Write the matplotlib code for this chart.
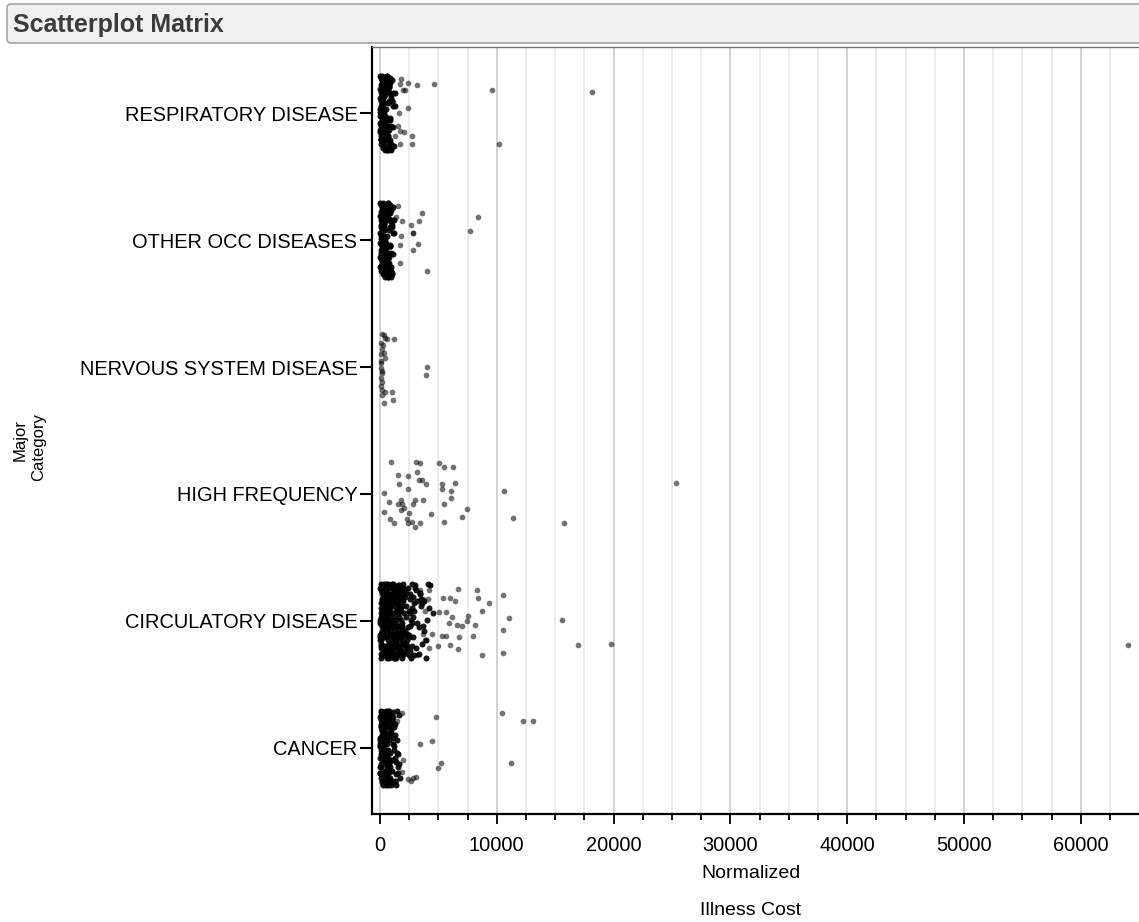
import numpy as np
import matplotlib.pyplot as plt
from matplotlib.patches import FancyBboxPatch

plt.rcParams['font.family'] = ['Liberation Sans', 'DejaVu Sans']

# categories bottom -> top
categories = ['CANCER', 'CIRCULATORY DISEASE', 'HIGH FREQUENCY',
              'NERVOUS SYSTEM DISEASE', 'OTHER OCC DISEASES', 'RESPIRATORY DISEASE']
x_ticks = [0, 10000, 20000, 30000, 40000, 50000, 60000]

# shared jitter offsets for the dense clusters (category units)
JIT = [0.03, -0.21, 0.17, -0.08, 0.26, -0.27, 0.10, -0.15, 0.22, -0.02, -0.24,
       0.14, -0.11, 0.28, 0.06, -0.18, 0.19, -0.05, 0.24, -0.29, 0.01, -0.13,
       0.12, -0.26, 0.08, 0.29, -0.10, 0.16, -0.20, 0.21, -0.04]

# ---- RESPIRATORY DISEASE
resp_blob = [40, 380, 720, 150, 560, 950, 260, 640, 90, 470, 820, 210, 1100, 330, 60, 690,
             510, 180, 880, 420, 20, 760, 290, 1200, 130, 600, 980, 350, 70, 540, 840,
             310, 660, 110, 450, 1020, 240, 780, 30, 580, 170, 910, 400, 720, 80, 1300,
             500, 230, 860, 140, 620, 360, 10, 960, 280, 700, 190, 430, 1150, 50, 800,
             600, 120, 870, 300, 20, 740, 440, 1000, 200, 650, 350, 60, 930, 490, 250,
             1080, 100, 560, 790, 330, 680, 160, 450, 30, 900, 270, 620, 80, 1250, 400, 730,
             250, 520, 60, 810, 390, 180, 640, 90, 330, 770, 20, 480, 210, 600, 850, 140,
             700, 40, 420, 300, 950, 110, 560, 230, 740, 380, 10, 660, 170, 500, 260]
resp_cost = [1800, 1740, 2420, 3170, 4620, 2000, 2110, 9610, 18120, 1140, 2420, 1650,
             1520, 1710, 2080, 2710, 1260, 1710, 2710, 10210]
resp_jit = [0.27, 0.23, 0.24, 0.22, 0.23, 0.18, 0.18, 0.18, 0.17, 0.09, 0.04, 0.0,
            -0.10, -0.14, -0.15, -0.18, -0.18, -0.24, -0.24, -0.24]

# ---- OTHER OCC DISEASES
occ_blob = [70, 420, 800, 190, 610, 1000, 300, 700, 120, 500, 880, 240, 1150, 360, 30, 740,
            540, 210, 930, 460, 50, 810, 320, 1050, 160, 650, 960, 390, 100, 580, 860,
            340, 690, 140, 480, 1080, 270, 820, 60, 610, 200, 940, 430, 760, 110, 1200,
            530, 260, 890, 170, 660, 390, 40, 990, 310, 730, 220, 470, 1120, 80, 830,
            630, 150, 900, 330, 50, 770, 470, 1030, 230, 680, 380, 90, 960, 520, 280,
            1100, 130, 590, 820, 360, 710, 190, 480, 60, 920, 300, 650, 110, 1180, 430, 760,
            210, 560, 30, 780, 350, 130, 620, 70, 290, 720, 10, 450, 180, 540, 880, 100,
            670, 20, 400, 250, 900, 150, 520, 200, 700, 330, 40, 600, 120, 480, 230]
occ_cost = [1570, 3570, 8420, 1370, 1860, 3340, 2630, 2800, 7700, 1800, 3280, 1710,
            2850, 1710, 4050, 2850]
occ_jit = [0.27, 0.215, 0.18, 0.18, 0.15, 0.15, 0.12, 0.06, 0.07, 0.03, -0.03, -0.04,
           -0.08, -0.18, -0.24, 0.06]

# ---- NERVOUS SYSTEM DISEASE
nerv_cost = [150, 430, 1230, 570, 150, 430, 60, 60, 4050, 3910, 150, 150, 150, 430,
             1050, 370, 1090, 100, 250, 80, 300, 120, 200, 60, 350, 90, 180]
nerv_jit = [0.26, 0.23, 0.22, 0.22, 0.14, 0.07, 0.03, -0.01, 0.0, -0.06, -0.05, -0.12,
            -0.18, -0.20, -0.20, -0.28, -0.26, 0.19, 0.17, 0.10, 0.11, -0.09, -0.03,
            -0.15, 0.25, 0.05, -0.22]

# ---- HIGH FREQUENCY
hf_cost = [940, 3080, 3420, 5050, 5500, 6280, 1510, 2420, 3140, 3340, 3570, 1650, 3910,
           5330, 6420, 2420, 5330, 6080, 340, 10610, 6080, 800, 1770, 3000, 3710, 1510,
           1860, 2850, 5480, 2080, 7420, 340, 1770, 2510, 4340, 6990, 11360, 860, 2280,
           2710, 1230, 2420, 3420, 5480, 3000, 15780, 25340]
hf_jit = [0.25, 0.25, 0.24, 0.24, 0.21, 0.21, 0.15, 0.14, 0.17, 0.11, 0.11, 0.08, 0.08,
          0.08, 0.09, 0.04, 0.04, 0.02, 0.01, 0.02, -0.03, -0.06, -0.05, -0.05, -0.05,
          -0.08, -0.08, -0.08, -0.08, -0.11, -0.12, -0.14, -0.13, -0.15, -0.16, -0.18,
          -0.19, -0.20, -0.20, -0.22, -0.23, -0.23, -0.23, -0.22, -0.26, -0.23, 0.09]

# ---- CIRCULATORY DISEASE
circ_blob = [50, 700, 1400, 300, 1100, 1800, 500, 1250, 150, 900, 1600, 400, 2000, 650, 100,
             1350, 1000, 350, 1700, 800, 20, 1500, 550, 1900, 250, 1150, 1750, 700, 120, 1050, 1650,
             600, 1300, 200, 850, 1950, 450, 1550, 80, 1150, 320, 1800, 750, 1400, 180, 2050,
             950, 420, 1700, 270, 1200, 680, 40, 1850, 520, 1350, 360, 830, 2000, 130, 1600, 1000,
             1200, 250, 1700, 580, 30, 1450, 880, 1950, 380, 1300, 650, 110, 1800, 980, 480,
             2000, 220, 1100, 1550, 610, 1350, 300, 900, 60, 1750, 530, 1250, 160, 1900, 780, 1450,
             400, 1000, 1850, 150, 760, 1250, 60, 1650, 600, 1900, 220, 1500, 880, 330, 1150,
             50, 1800, 700, 1400, 90, 1000, 1750, 450, 1300, 810, 1950, 270, 1550, 540, 1100, 200,
             1600, 90, 1000, 1300, 480, 200, 1750, 700, 1450, 30, 1050, 850, 320, 1650, 730,
             1350, 1500, 250, 620, 1850, 180, 1100, 1600, 940, 420, 1000, 1650, 620, 850, 300, 1850,
             880, 1550, 420, 1950, 1200, 950, 320, 1100, 1750, 650, 480, 1300, 40, 1050, 1550,
             780, 600, 1900, 80, 1400, 1800, 560, 1250, 1700, 150, 720, 100, 1350, 1500, 1950, 650,
             300, 1250, 700, 1600, 100, 1400, 850, 20, 1150, 500, 1700, 250, 950, 1500, 600,
             1900, 380, 1050, 160, 1300, 750, 1650, 450, 1100, 1800, 70, 1450, 900, 330, 1200, 1550,
             2200, 3100, 2600, 3800, 2400, 2900, 4200, 2300, 3400, 2700, 2100, 3600, 2500, 3000,
             4500, 2250, 2800, 3300, 2150, 3900, 2650, 2450, 3500, 2050, 2950, 4100, 2350, 3200,
             2750, 2550, 3700,
             2800, 2300, 3500, 2100, 3000, 2450, 2700, 3900, 2250, 3200, 2600, 2900, 2350, 4300,
             2550, 3600, 2150, 2400, 3100, 2650, 4000, 2850, 2200, 3300, 2500, 2750, 2050, 3800,
             2300, 3400, 2600]
circ_cost = [4220, 3420, 6650, 8280, 10500, 3650, 4140, 5370, 5990, 6420, 8420, 9330, 5080,
             5650, 3850, 8700, 6140, 7560, 11070, 7420, 5930, 6620, 6990, 8130, 10500, 3710,
             4420, 5280, 5650, 6790, 7990, 3850, 4990, 5990, 6700, 4220, 3140, 8700, 10500,
             15610, 16920, 19750, 64030]
circ_jit = [0.24, 0.24, 0.25, 0.24, 0.20, 0.17, 0.17, 0.18, 0.18, 0.16, 0.18, 0.14, 0.07,
            0.07, 0.08, 0.08, 0.03, 0.04, 0.02, 0.0, -0.02, -0.03, -0.04, -0.03, -0.07, -0.10,
            -0.10, -0.12, -0.12, -0.13, -0.12, -0.15, -0.20, -0.19, -0.22, -0.21, -0.27, -0.27,
            -0.25, 0.01, -0.19, -0.18, -0.19]

# ---- CANCER
canc_blob = [30, 450, 200, 700, 100, 550, 300, 850, 60, 400, 650, 150, 800, 250, 20, 600,
             350, 120, 750, 480, 10, 680, 280, 900, 90, 520, 780, 330, 40, 620, 880,
             380, 80, 600, 240, 820, 130, 500, 20, 700, 300, 880, 180, 560, 50, 760,
             420, 160, 640, 270, 900, 340, 70, 720, 220, 580, 110, 460, 840, 30, 660, 200,
             600, 220, 50, 480, 330, 760, 150, 620, 400, 90, 540, 290, 700, 440, 120,
             860, 230, 520, 40, 690, 180, 810, 370, 560, 10, 730, 260, 640, 140, 470, 340,
             160, 700, 380, 20, 590, 260, 820, 110, 450, 650, 60, 300, 760, 190, 500, 880,
             70, 410, 620, 230, 10, 540, 350, 780, 130, 670, 290, 50, 460, 720, 170,
             1100, 1400, 950, 1250, 1600, 1000, 1300, 1500, 1050, 1200, 1700, 980, 1350, 1150,
             1450, 1020, 1280, 1550, 1080, 1380, 1180, 1650, 960, 1320, 1120, 1480, 1060, 1230,
             1580, 1010, 1420]
canc_cost = [1860, 1430, 4770, 10470, 12210, 13070, 3420, 4420, 1140, 1280, 2000, 5200,
             11210, 4990, 1860, 1370, 2420, 2850, 3080, 2630]
canc_jit = [0.27, 0.21, 0.24, 0.27, 0.21, 0.21, 0.03, 0.05, 0.03, -0.10, -0.10, -0.12,
            -0.12, -0.16, -0.19, -0.26, -0.25, -0.24, -0.23, -0.26]

blobs = {0: canc_blob, 1: circ_blob, 4: occ_blob, 5: resp_blob}
singles = {0: (canc_cost, canc_jit), 1: (circ_cost, circ_jit), 2: (hf_cost, hf_jit),
           3: (nerv_cost, nerv_jit), 4: (occ_cost, occ_jit), 5: (resp_cost, resp_jit)}

fig = plt.figure(figsize=(11.39, 9.22), dpi=100)

# title bar
bar = FancyBboxPatch((7 / 1139, 1 - 43 / 922), 1140 / 1139, 39 / 922,
                     boxstyle='round,pad=0,rounding_size=0.004', transform=fig.transFigure,
                     facecolor='#f0f0f0', edgecolor='#a4a4a4', linewidth=1.2)
fig.patches.append(bar)
fig.text(13 / 1139, 1 - 25 / 922, 'Scatterplot Matrix', fontsize=18, fontweight='bold',
         color='#3c3c3c', ha='left', va='center')

ax = fig.add_axes([372 / 1139, 1 - 814 / 922, 767 / 1139, 767 / 922])

for i, vals in blobs.items():
    ys = [i + JIT[k % len(JIT)] for k in range(len(vals))]
    ax.scatter(vals, ys, s=19, color='black', alpha=0.9, linewidths=0, zorder=3)
for i, (vals, jit) in singles.items():
    ys = [i + j for j in jit]
    ax.scatter(vals, ys, s=17, color='black', alpha=0.55, linewidths=0, zorder=3)

ax.set_xlim(-685, 64983)
ax.set_ylim(-0.522, 5.522)
ax.set_xticks(x_ticks)
ax.set_xticks([v for v in range(2500, 65000, 2500) if v % 10000], minor=True)
ax.set_yticks(range(len(categories)))
ax.set_yticklabels(categories)
ax.tick_params(axis='x', which='major', length=7.5, width=1.3, labelsize=14.4, pad=8.5, color='black')
ax.tick_params(axis='x', which='minor', length=4.5, width=1.3, color='black')
ax.tick_params(axis='y', length=9, width=1.5, labelsize=14.4, pad=1.5)
ax.grid(axis='x', which='major', color='#d2d2d2', lw=1.4, zorder=0)
ax.grid(axis='x', which='minor', color='#ebebeb', lw=1.4, zorder=0)

ax.spines['right'].set_visible(False)
ax.spines['left'].set_linewidth(1.6)
ax.spines['bottom'].set_linewidth(1.6)
ax.spines['top'].set_linewidth(1.0)
ax.spines['top'].set_color('#707070')

fig.text(751 / 1139, 1 - 873 / 922, 'Normalized', fontsize=14, ha='center', va='center')
fig.text(751 / 1139, 1 - 910 / 922, 'Illness Cost', fontsize=14, ha='center', va='center')
fig.text(20 / 1139, 1 - 440 / 922, 'Major', fontsize=12, rotation=90, ha='center', va='center')
fig.text(39 / 1139, 1 - 447 / 922, 'Category', fontsize=12, rotation=90, ha='center', va='center')

fig.savefig('out.png', dpi=100)
